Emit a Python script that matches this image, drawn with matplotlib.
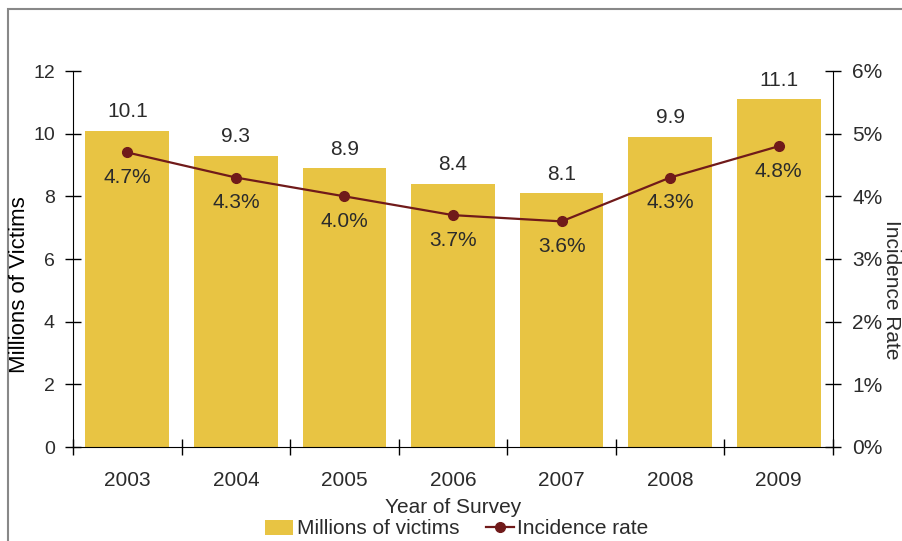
import numpy as np
import matplotlib.pyplot as plt
from matplotlib.patches import Rectangle

years = ['2003', '2004', '2005', '2006', '2007', '2008', '2009']
victims = [10.1, 9.3, 8.9, 8.4, 8.1, 9.9, 11.1]
rate = [4.7, 4.3, 4.0, 3.7, 3.6, 4.3, 4.8]
rate_ticks = ['0%', '1%', '2%', '3%', '4%', '5%', '6%']

plt.rcParams['font.family'] = ['Liberation Sans', 'DejaVu Sans']
bar_color = '#E8C443'
line_color = '#701A1A'
text_color = '#2b2b2b'
fs = 15

fig = plt.figure(figsize=(9.02, 5.41), dpi=100)
ax = fig.add_axes([73 / 902, 1 - 447 / 541, 760 / 902, 376 / 541])

x = np.arange(len(years))
ax.bar(x, victims, width=0.77, color=bar_color, label='Millions of victims', zorder=2)
for xi, v in zip(x, victims):
    ax.text(xi, v + 0.3, f'{v:.1f}', ha='center', va='bottom', fontsize=fs, color=text_color)

ax.set_xlim(-0.5, len(years) - 0.5)
ax.set_ylim(0, 12)
ax.set_yticks(range(0, 13, 2))
ax.set_xticks(x)
ax.set_xticklabels(years)
ax.set_xticks(np.arange(-0.5, len(years), 1.0), minor=True)
ax.tick_params(axis='x', which='major', length=0, pad=17, labelsize=fs, labelcolor=text_color)
ax.tick_params(axis='x', which='minor', direction='inout', length=12, width=1)
ax.tick_params(axis='y', direction='inout', length=12, width=1, labelsize=14, labelcolor=text_color, pad=7)
ax.spines['top'].set_visible(False)
ax.spines['right'].set_visible(False)
ax.set_xlabel('Year of Survey', fontsize=fs, color=text_color, labelpad=6)
fig.text(20 / 902, 1 - 285 / 541, 'Millions of Victims', rotation=90, ha='center', va='center',
         fontsize=16, color='black')

ax2 = ax.twinx()
ax2.plot(x, rate, color=line_color, marker='o', markersize=7, linewidth=1.6, label='Incidence rate', zorder=3)
for xi, r in zip(x, rate):
    ax2.text(xi, r - 0.25, f'{r:.1f}%', ha='center', va='top', fontsize=fs, color=text_color)
ax2.set_ylim(0, 6)
ax2.set_yticks(range(0, 7))
ax2.set_yticklabels(rate_ticks)
ax2.tick_params(axis='y', direction='inout', length=12, width=1, labelsize=fs, labelcolor=text_color, pad=8)
for s in ['top', 'left', 'bottom']:
    ax2.spines[s].set_visible(False)
fig.text(891 / 902, 1 - 290 / 541, 'Incidence Rate', rotation=270, ha='center', va='center',
         fontsize=fs, color=text_color)

h1, l1 = ax.get_legend_handles_labels()
h2, l2 = ax2.get_legend_handles_labels()
fig.legend(h1 + h2, l1 + l2, loc='center', bbox_to_anchor=(457 / 902, 1 - 529 / 541), ncol=2,
           frameon=False, fontsize=fs, handlelength=1.35, handletextpad=0.15, columnspacing=1.3,
           labelcolor=text_color, borderpad=0)

fig.patches.append(Rectangle((8 / 902, -0.1), 1.2, 1 - 9 / 541 + 0.1, transform=fig.transFigure,
                             fill=False, edgecolor='#888888', linewidth=1.5))

fig.savefig('out.png', dpi=100)
